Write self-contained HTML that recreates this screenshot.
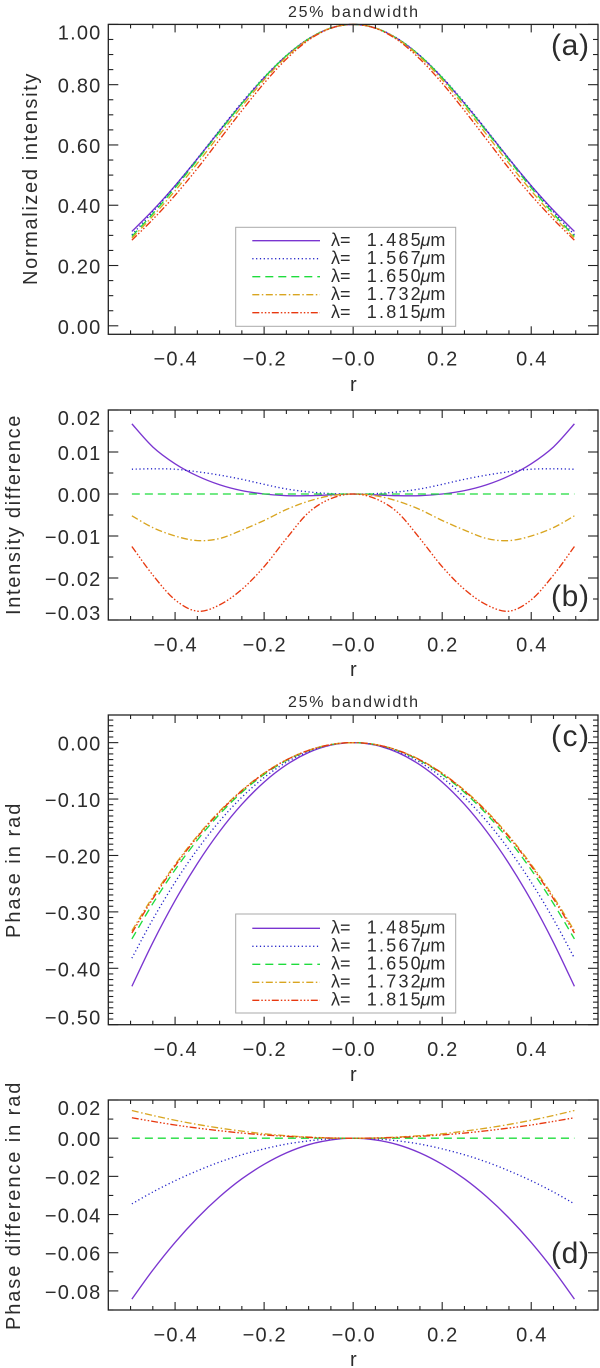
<!DOCTYPE html>
<html lang="en">
<head>
<meta charset="utf-8">
<title>25% bandwidth intensity and phase profiles</title>
<style>
html,body{margin:0;padding:0;background:#fff;}
svg{display:block;font-family:"Liberation Sans","DejaVu Sans",sans-serif;}
text{fill:#2c2c2c;}
.tick{font-size:20px;letter-spacing:1.2px;}
.axis-title{font-size:20px;letter-spacing:.6px;}
.title{font-size:16px;}
.panel-tag{font-size:30px;}
.leg{font-size:18px;}
</style>
</head>
<body>
<svg id="figure" width="600" height="1368" viewBox="0 0 600 1368" xmlns="http://www.w3.org/2000/svg">
  <rect x="0" y="0" width="600" height="1368" fill="#fff"/>
  <g id="plots"></g>

  <text class="title" x="288" y="17" textLength="130" lengthAdjust="spacing">25% bandwidth</text>
  <text class="title" x="288" y="707" textLength="130" lengthAdjust="spacing">25% bandwidth</text>

  <text class="axis-title" transform="translate(37,285) rotate(-90)" textLength="212" lengthAdjust="spacing">Normalized intensity</text>
  <text class="axis-title" transform="translate(20,615) rotate(-90)" textLength="200" lengthAdjust="spacing">Intensity difference</text>
  <text class="axis-title" transform="translate(20,938) rotate(-90)" textLength="135" lengthAdjust="spacing">Phase in rad</text>
  <text class="axis-title" transform="translate(20,1330) rotate(-90)" textLength="248" lengthAdjust="spacing">Phase difference in rad</text>

  <text class="axis-title" x="350" y="391">r</text>
  <text class="axis-title" x="350" y="676">r</text>
  <text class="axis-title" x="350" y="1081">r</text>
  <text class="axis-title" x="350" y="1366">r</text>

  <text class="panel-tag" x="570" y="55" text-anchor="middle" textLength="38">(a)</text>
  <text class="panel-tag" x="570" y="606" text-anchor="middle" textLength="38">(b)</text>
  <text class="panel-tag" x="570" y="746" text-anchor="middle" textLength="38">(c)</text>
  <text class="panel-tag" x="570" y="1263" text-anchor="middle" textLength="38">(d)</text>

  <g>
    <rect x="235.7" y="227.3" width="220" height="99" fill="#fff" stroke="#aaa" stroke-width="1"/>
    <g>
      <line x1="252.3" x2="320" y1="240.7" y2="240.7" stroke="#7a35d0" stroke-width="1.4"/>
      <text class="leg" y="246"><tspan x="331">λ=</tspan><tspan x="366.7" textLength="54">1.485</tspan><tspan x="420.5" font-style="italic">μ</tspan><tspan>m</tspan></text>
    </g>
    <g>
      <line x1="252.3" x2="320" y1="258.7" y2="258.7" stroke="#2222c8" stroke-width="1.3" stroke-dasharray="1.2 2.6"/>
      <text class="leg" y="264"><tspan x="331">λ=</tspan><tspan x="366.7" textLength="54">1.567</tspan><tspan x="420.5" font-style="italic">μ</tspan><tspan>m</tspan></text>
    </g>
    <g>
      <line x1="252.3" x2="320" y1="276.7" y2="276.7" stroke="#1fdc3c" stroke-width="1.4" stroke-dasharray="8 5"/>
      <text class="leg" y="282"><tspan x="331">λ=</tspan><tspan x="366.7" textLength="54">1.650</tspan><tspan x="420.5" font-style="italic">μ</tspan><tspan>m</tspan></text>
    </g>
    <g>
      <line x1="252.3" x2="320" y1="294.7" y2="294.7" stroke="#d9a520" stroke-width="1.3" stroke-dasharray="7 2.5 1.5 2.5"/>
      <text class="leg" y="300"><tspan x="331">λ=</tspan><tspan x="366.7" textLength="54">1.732</tspan><tspan x="420.5" font-style="italic">μ</tspan><tspan>m</tspan></text>
    </g>
    <g>
      <line x1="252.3" x2="320" y1="312.7" y2="312.7" stroke="#e8380f" stroke-width="1.3" stroke-dasharray="7 2 1.5 2 1.5 2 1.5 2"/>
      <text class="leg" y="318"><tspan x="331">λ=</tspan><tspan x="366.7" textLength="54">1.815</tspan><tspan x="420.5" font-style="italic">μ</tspan><tspan>m</tspan></text>
    </g>
  </g>

  <g>
    <rect x="235.7" y="914" width="220" height="99" fill="#fff" stroke="#aaa" stroke-width="1"/>
    <g>
      <line x1="252.3" x2="320" y1="928.3" y2="928.3" stroke="#7a35d0" stroke-width="1.4"/>
      <text class="leg" y="933.6"><tspan x="331">λ=</tspan><tspan x="366.7" textLength="54">1.485</tspan><tspan x="420.5" font-style="italic">μ</tspan><tspan>m</tspan></text>
    </g>
    <g>
      <line x1="252.3" x2="320" y1="946.3" y2="946.3" stroke="#2222c8" stroke-width="1.3" stroke-dasharray="1.2 2.6"/>
      <text class="leg" y="951.6"><tspan x="331">λ=</tspan><tspan x="366.7" textLength="54">1.567</tspan><tspan x="420.5" font-style="italic">μ</tspan><tspan>m</tspan></text>
    </g>
    <g>
      <line x1="252.3" x2="320" y1="964.3" y2="964.3" stroke="#1fdc3c" stroke-width="1.4" stroke-dasharray="8 5"/>
      <text class="leg" y="969.6"><tspan x="331">λ=</tspan><tspan x="366.7" textLength="54">1.650</tspan><tspan x="420.5" font-style="italic">μ</tspan><tspan>m</tspan></text>
    </g>
    <g>
      <line x1="252.3" x2="320" y1="982.3" y2="982.3" stroke="#d9a520" stroke-width="1.3" stroke-dasharray="7 2.5 1.5 2.5"/>
      <text class="leg" y="987.6"><tspan x="331">λ=</tspan><tspan x="366.7" textLength="54">1.732</tspan><tspan x="420.5" font-style="italic">μ</tspan><tspan>m</tspan></text>
    </g>
    <g>
      <line x1="252.3" x2="320" y1="1000.3" y2="1000.3" stroke="#e8380f" stroke-width="1.3" stroke-dasharray="7 2 1.5 2 1.5 2 1.5 2"/>
      <text class="leg" y="1005.6"><tspan x="331">λ=</tspan><tspan x="366.7" textLength="54">1.815</tspan><tspan x="420.5" font-style="italic">μ</tspan><tspan>m</tspan></text>
    </g>
  </g>
</svg>

<script>
// ---- shared data ----
const rValues = [-0.497,-0.45,-0.4,-0.35,-0.3,-0.25,-0.2,-0.15,-0.1,-0.05,0,0.05,0.1,0.15,0.2,0.25,0.3,0.35,0.4,0.45,0.497];
const xTickValues = [-0.4,-0.2,0,0.2,0.4];
const xTickLabels = ["\u22120.4","\u22120.2","\u22120.0","0.2","0.4"];
const xMinorValues = [-0.5,-0.45,-0.35,-0.3,-0.25,-0.15,-0.1,-0.05,0.05,0.1,0.15,0.25,0.3,0.35,0.45,0.5];
const seriesNames = ["1485","1567","1650","1732","1815"];

// ---- panel (a) normalized intensity ----
const intensity1485 = [.313,.383,.465,.554,.647,.738,.823,.896,.952,.988,1,.988,.952,.896,.823,.738,.647,.554,.465,.383,.313];
const intensity1567 = [.302,.378,.464,.555,.649,.741,.825,.897,.953,.988,1,.988,.953,.897,.825,.741,.649,.555,.464,.378,.302];
const intensity1650 = [.2965,.372,.458,.550,.644,.737,.823,.896,.952,.988,1,.988,.952,.896,.823,.737,.644,.550,.458,.372,.2965];
const intensity1732 = [.291,.364,.448,.539,.634,.728,.816,.892,.951,.988,1,.988,.951,.892,.816,.728,.634,.539,.448,.364,.291];
const intensity1815 = [.284,.353,.433,.522,.618,.714,.805,.885,.948,.987,1,.987,.948,.885,.805,.714,.618,.522,.433,.353,.284];
const intensityTicks = [1,0.8,0.6,0.4,0.2,0];
const intensityLabels = ["1.00","0.80","0.60","0.40","0.20","0.00"];
const intensityMinor = [.95,.9,.85,.75,.7,.65,.55,.5,.45,.35,.3,.25,.15,.1,.05];

// ---- panel (b) intensity difference ----
const intDiff1485 = [.0167,.0112,.0072,.0043,.0022,.0008,0,-.0004,-.0004,-.0002,0,-.0002,-.0004,-.0004,0,.0008,.0022,.0043,.0072,.0112,.0167];
const intDiff1567 = [.0059,.006,.0059,.0053,.0045,.0035,.0023,.0012,.0005,.0001,0,.0001,.0005,.0012,.0023,.0035,.0045,.0053,.0059,.006,.0059];
const intDiff1650 = [0,0,0,0,0,0,0,0,0,0,0,0,0,0,0,0,0,0,0,0,0];
const intDiff1732 = [-.0052,-.008,-.01,-.0111,-.0106,-.0086,-.0063,-.0037,-.0017,-.0004,0,-.0004,-.0017,-.0037,-.0063,-.0086,-.0106,-.0111,-.01,-.008,-.0052];
const intDiff1815 = [-.0125,-.0193,-.0252,-.0279,-.0264,-.0227,-.0173,-.0106,-.0044,-.0011,0,-.0011,-.0044,-.0106,-.0173,-.0227,-.0264,-.0279,-.0252,-.0193,-.0125];
const intDiffTicks = [0.02,0.01,0,-0.01,-0.02,-0.03];
const intDiffLabels = ["0.02","0.01","0.00","\u22120.01","\u22120.02","\u22120.03"];
const intDiffMinor = [.015,.005,-.005,-.015,-.025];

// ---- panel (c) phase ----
const phase1485 = [-.432,-.3543,-.28,-.2144,-.1575,-.1094,-.07,-.0394,-.0175,-.0044,0,-.0044,-.0175,-.0394,-.07,-.1094,-.1575,-.2144,-.28,-.3543,-.432];
const phase1567 = [-.382,-.3132,-.2475,-.1895,-.1392,-.0967,-.0619,-.0348,-.0155,-.0039,0,-.0039,-.0155,-.0348,-.0619,-.0967,-.1392,-.1895,-.2475,-.3132,-.382];
const phase1650 = [-.348,-.2853,-.2254,-.1726,-.1268,-.0881,-.0564,-.0317,-.0141,-.0035,0,-.0035,-.0141,-.0317,-.0564,-.0881,-.1268,-.1726,-.2254,-.2853,-.348];
const phase1732 = [-.3335,-.2734,-.216,-.1654,-.1215,-.0844,-.054,-.0304,-.0135,-.0034,0,-.0034,-.0135,-.0304,-.054,-.0844,-.1215,-.1654,-.216,-.2734,-.3335];
const phase1815 = [-.3375,-.2767,-.2186,-.1674,-.123,-.0854,-.0547,-.0307,-.0137,-.0034,0,-.0034,-.0137,-.0307,-.0547,-.0854,-.123,-.1674,-.2186,-.2767,-.3375];
const phaseTicks = [0,-0.1,-0.2,-0.3,-0.4,-0.5];
const phaseLabels = ["0.00","\u22120.10","\u22120.20","\u22120.30","\u22120.40","\u22120.50"];
const phaseMinor = [.04,.03,.02,.01,-.01,-.02,-.03,-.04,-.05,-.06,-.07,-.08,-.09,-.11,-.12,-.13,-.14,-.15,-.16,-.17,-.18,-.19,-.21,-.22,-.23,-.24,-.25,-.26,-.27,-.28,-.29,-.31,-.32,-.33,-.34,-.35,-.36,-.37,-.38,-.39,-.41,-.42,-.43,-.44,-.45,-.46,-.47,-.48,-.49];

// ---- panel (d) phase difference ----
const phaseDiff1485 = [-.0843,-.0691,-.0546,-.0418,-.0307,-.0213,-.0137,-.0077,-.0034,-.0009,0,-.0009,-.0034,-.0077,-.0137,-.0213,-.0307,-.0418,-.0546,-.0691,-.0843];
const phaseDiff1567 = [-.0344,-.0282,-.0223,-.0171,-.0125,-.0087,-.0056,-.0031,-.0014,-.0003,0,-.0003,-.0014,-.0031,-.0056,-.0087,-.0125,-.0171,-.0223,-.0282,-.0344];
const phaseDiff1650 = [0,0,0,0,0,0,0,0,0,0,0,0,0,0,0,0,0,0,0,0,0];
const phaseDiff1732 = [.0145,.0119,.0094,.0072,.0053,.0037,.0023,.0013,.0006,.0001,0,.0001,.0006,.0013,.0023,.0037,.0053,.0072,.0094,.0119,.0145];
const phaseDiff1815 = [.0107,.0088,.0069,.0053,.0039,.0027,.0017,.001,.0004,.0001,0,.0001,.0004,.001,.0017,.0027,.0039,.0053,.0069,.0088,.0107];
const phaseDiffTicks = [0.02,0,-0.02,-0.04,-0.06,-0.08];
const phaseDiffLabels = ["0.02","0.00","\u22120.02","\u22120.04","\u22120.06","\u22120.08"];
const phaseDiffMinor = [.01,-.01,-.03,-.05,-.07,-.09];

// ---- rendering ----
const SVGNS = "http://www.w3.org/2000/svg";
const plotsRoot = document.getElementById("plots");
const FRAME_LEFT = 108.3, FRAME_RIGHT = 598, X_MIN = -0.55, X_MAX = 0.55;
const lineColors = ["#7a35d0","#2222c8","#1fdc3c","#d9a520","#e8380f"];
const lineDashes = ["none","1.2 2.6","8 5","7 2.5 1.5 2.5","7 2 1.5 2 1.5 2 1.5 2"];

function xScale(v){ return FRAME_LEFT + (v - X_MIN) / (X_MAX - X_MIN) * (FRAME_RIGHT - FRAME_LEFT); }
function makeYScale(p){ return function(v){ return p.top + (p.yMax - v) / (p.yMax - p.yMin) * (p.bottom - p.top); }; }

function shape(tag, parent, attrs){
  const node = document.createElementNS(SVGNS, tag);
  for (const k in attrs) node.setAttribute(k, attrs[k]);
  parent.appendChild(node);
  return node;
}

function curvePath(xs, ys, yS){
  const pts = xs.map(function(r, i){ return [xScale(r), yS(ys[i])]; });
  let d = "M" + pts[0][0].toFixed(2) + " " + pts[0][1].toFixed(2);
  for (let i = 0; i < pts.length - 1; i++){
    const p0 = pts[Math.max(0, i - 1)], p1 = pts[i], p2 = pts[i + 1], p3 = pts[Math.min(pts.length - 1, i + 2)];
    const c1x = p1[0] + (p2[0] - p0[0]) / 6, c1y = p1[1] + (p2[1] - p0[1]) / 6;
    const c2x = p2[0] - (p3[0] - p1[0]) / 6, c2y = p2[1] - (p3[1] - p1[1]) / 6;
    d += "C" + c1x.toFixed(2) + " " + c1y.toFixed(2) + " " + c2x.toFixed(2) + " " + c2y.toFixed(2) + " " + p2[0].toFixed(2) + " " + p2[1].toFixed(2);
  }
  return d;
}

function drawPanel(p){
  const yS = makeYScale(p);
  const g = shape("g", plotsRoot, {});
  
  

  // series lines first, frame and ticks over them
  p.series.forEach(function(values, i){
    const path = shape("path", g, {
      d: curvePath(rValues, values, yS), fill: "none", stroke: lineColors[i],
      "stroke-width": 1.35, "stroke-dasharray": lineDashes[i]
    });
    
    
  });

  const frame = shape("rect", g, {
    x: FRAME_LEFT, y: p.top, width: FRAME_RIGHT - FRAME_LEFT, height: p.bottom - p.top,
    fill: "none", stroke: "#222", "stroke-width": 1.3
  });
  
  

  const ticksGroup = shape("g", g, { stroke: "#222", "stroke-width": 1.1 });
  
  

  function xTick(v, len){
    const x = xScale(v).toFixed(2);
    shape("line", ticksGroup, { x1: x, x2: x, y1: p.bottom, y2: p.bottom - len });
    shape("line", ticksGroup, { x1: x, x2: x, y1: p.top, y2: p.top + len });
  }
  function yTick(v, len){
    const y = yS(v).toFixed(2);
    shape("line", ticksGroup, { x1: FRAME_LEFT, x2: FRAME_LEFT + len, y1: y, y2: y });
    shape("line", ticksGroup, { x1: FRAME_RIGHT, x2: FRAME_RIGHT - len, y1: y, y2: y });
  }
  xTickValues.forEach(function(v){ xTick(v, 8); });
  xMinorValues.forEach(function(v){ xTick(v, 4); });
  p.yTicks.forEach(function(v){ yTick(v, 10); });
  p.yMinor.forEach(function(v){ yTick(v, 5); });

  xTickValues.forEach(function(v, i){
    const t = shape("text", g, { class: "tick", x: xScale(v) + 0.6, y: p.bottom + 31.3, "text-anchor": "middle" });
    t.textContent = xTickLabels[i];
    
    
  });
  p.yTicks.forEach(function(v, i){
    const base = Math.max(p.top + 15, Math.min(yS(v) + 8, p.bottom));
    const t = shape("text", g, { class: "tick", x: 101.5, y: base.toFixed(2), "text-anchor": "end" });
    t.textContent = p.yLabels[i];
    
    
  });
}

drawPanel({ id: "a", top: 24.4, bottom: 334.3, yMax: 1, yMin: -0.0282,
  series: [intensity1485, intensity1567, intensity1650, intensity1732, intensity1815],
  yTicks: intensityTicks, yLabels: intensityLabels, yMinor: intensityMinor });
drawPanel({ id: "b", top: 410, bottom: 620, yMax: 0.02, yMin: -0.03,
  series: [intDiff1485, intDiff1567, intDiff1650, intDiff1732, intDiff1815],
  yTicks: intDiffTicks, yLabels: intDiffLabels, yMinor: intDiffMinor });
drawPanel({ id: "c", top: 715, bottom: 1024.7, yMax: 0.049, yMin: -0.5,
  series: [phase1485, phase1567, phase1650, phase1732, phase1815],
  yTicks: phaseTicks, yLabels: phaseLabels, yMinor: phaseMinor });
drawPanel({ id: "d", top: 1100, bottom: 1310, yMax: 0.02, yMin: -0.09,
  series: [phaseDiff1485, phaseDiff1567, phaseDiff1650, phaseDiff1732, phaseDiff1815],
  yTicks: phaseDiffTicks, yLabels: phaseDiffLabels, yMinor: phaseDiffMinor });
</script>
</body>
</html>
